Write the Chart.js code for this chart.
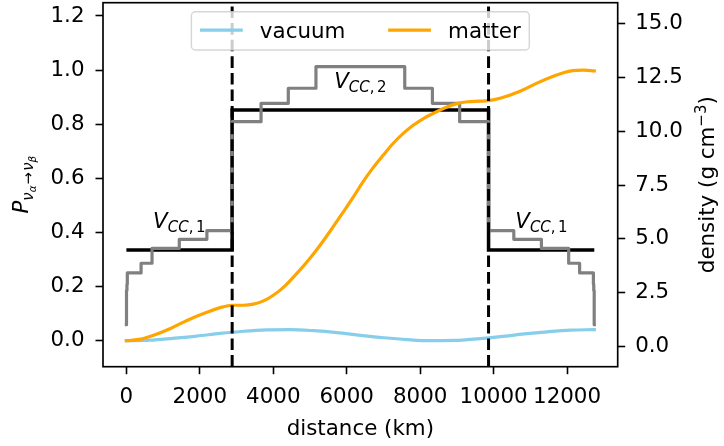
<!DOCTYPE html>
<html>
<head>
<meta charset="utf-8">
<script src="https://cdn.jsdelivr.net/npm/chart.js@4.4.1/dist/chart.umd.min.js"></script>
<style>
  html, body { margin: 0; padding: 0; background: #fff; }
  #wrap { position: relative; width: 724px; height: 446px; }
</style>
</head>
<body>
<div id="wrap"><canvas id="oscChart" width="724" height="446"></canvas></div>
<script>
// ---- oscillation probability along the baseline ----
const vacuumKm = [0, 640, 1270, 1910, 2550, 3190, 3820, 4460, 5100, 5730, 6370,
                  7010, 7650, 8280, 8920, 9560, 10190, 10830, 11470, 12100, 12742];
const vacuumP  = [0, 0.002, 0.009, 0.017, 0.027, 0.035, 0.040, 0.041, 0.037, 0.030, 0.020,
                  0.011, 0.004, 0.000, 0.001, 0.007, 0.015, 0.025, 0.033, 0.039, 0.041];

const matterKm = [0, 400, 742, 1200, 1649, 2192, 2600, 2880, 3200, 3458, 3750, 4002, 4300,
                  4637, 5000, 5270, 5600, 5903, 6200, 6447, 6700, 6990, 7250, 7533, 7800,
                  8100, 8400, 8700, 9000, 9300, 9600, 9862, 10200, 10704, 11150, 11608,
                  11900, 12152, 12450, 12742];
const matterP  = [0, 0.006, 0.020, 0.045, 0.075, 0.105, 0.124, 0.131, 0.131, 0.135, 0.148, 0.168, 0.200,
                  0.248, 0.305, 0.352, 0.415, 0.475, 0.535, 0.588, 0.636, 0.685, 0.727, 0.765, 0.795,
                  0.822, 0.843, 0.862, 0.876, 0.883, 0.885, 0.887, 0.897, 0.921, 0.950, 0.976,
                  0.990, 0.998, 1.000, 0.997];

// ---- layered density (g/cm^3), each value holds until the next distance ----
const premKm      = [0, 3, 15, 25, 400, 698, 1440, 2192, 2880, 3667, 4409, 5162,
                     7580, 8333, 9075, 9862, 10550, 11302, 12044, 12342, 12717, 12727, 12739, 12742];
const premDensity = [1.02, 2.6, 2.9, 3.42, 3.87, 4.56, 4.98, 5.38, 10.44, 11.29, 11.99, 12.99,
                     11.99, 11.29, 10.44, 5.38, 4.98, 4.56, 3.87, 3.42, 2.9, 2.6, 1.02, 1.02];

// ---- constant-density approximation (mantle / core / mantle) ----
const vccKm      = [0, 2880, 2880, 9862, 9862, 12742];
const vccDensity = [4.49, 4.49, 10.98, 10.98, 4.49, 4.49];

// mantle-core crossings
const coreKm = [2880, 9862];

// V_CC labels
const vccLabelKm      = [1440, 6371, 11302];
const vccLabelDensity = [5.5, 12.0, 5.5];
const vccLabelIndex   = ['1', '2', '1'];

// ticks
const distanceTicks = [0, 2000, 4000, 6000, 8000, 10000, 12000];
const probTicks     = [0, 0.2, 0.4, 0.6, 0.8, 1.0, 1.2];
const densityTicks  = [0, 2.5, 5, 7.5, 10, 12.5, 15];

const FAMILY = '"DejaVu Sans"';
const FS = 21.4;

const pts = (xs, ys) => xs.map((x, i) => ({ x: x, y: ys[i] }));
const fontOf = r => `${r.it ? 'italic ' : ''}${r.s}px ${FAMILY}`;

function runsWidth(ctx, runs) {
    let w = 0;
    runs.forEach(r => { ctx.font = fontOf(r); w += ctx.measureText(r.t).width + (r.gap || 0); });
    return w;
}
function drawRuns(ctx, runs, x, y) {
    let cx = x;
    runs.forEach(r => {
        ctx.font = fontOf(r);
        ctx.fillText(r.t, cx, y + (r.dy || 0));
        cx += ctx.measureText(r.t).width + (r.gap || 0);
    });
}

const decorations = {
    id: 'decorations',
    afterDatasetsDraw(chart) {
        const { ctx, chartArea: a, scales } = chart;
        ctx.save();

        // dashed core boundaries
        ctx.strokeStyle = '#000';
        ctx.lineWidth = 3;
        ctx.setLineDash([11.6, 5]);
        coreKm.forEach(km => {
            const x = scales.x.getPixelForValue(km);
            ctx.beginPath();
            ctx.moveTo(x, a.bottom);
            ctx.lineTo(x, a.top);
            ctx.stroke();
        });
        ctx.setLineDash([]);

        // V_CC,i labels
        ctx.fillStyle = '#000';
        ctx.textAlign = 'left';
        ctx.textBaseline = 'alphabetic';
        const sub = FS * 0.7;
        vccLabelKm.forEach((km, i) => {
            const runs = [
                { t: 'V', s: FS, it: true },
                { t: 'CC', s: sub, it: true, dy: 4 },
                { t: ',', s: sub, dy: 4, gap: 2.5 },
                { t: vccLabelIndex[i], s: sub, dy: 4 }
            ];
            const w = runsWidth(ctx, runs);
            drawRuns(ctx, runs, scales.x.getPixelForValue(km) - w / 2,
                     scales.yd.getPixelForValue(vccLabelDensity[i]));
        });

        // frame
        ctx.lineWidth = 1.67;
        ctx.strokeStyle = '#000';
        ctx.strokeRect(a.left, a.top, a.right - a.left, a.bottom - a.top);

        // legend (two columns, upper centre)
        const items = chart.data.datasets.filter(d => d.inLegend)
            .sort((p, q) => p.legendPos - q.legendPos);
        const pad = 0.4 * FS, handle = 2 * FS, htp = 0.8 * FS, colsp = 2 * FS;
        ctx.font = `${FS}px ${FAMILY}`;
        const widths = items.map(d => ctx.measureText(d.label).width);
        let boxW = 2 * pad + colsp * (items.length - 1);
        widths.forEach(w => { boxW += handle + htp + w; });
        const boxH = 38.3;
        const boxL = (a.left + a.right) / 2 - boxW / 2;
        const boxT = a.top + 9;
        ctx.globalAlpha = 0.8;
        ctx.beginPath();
        ctx.roundRect(boxL, boxT, boxW, boxH, 4);
        ctx.fillStyle = '#fff';
        ctx.fill();
        ctx.lineWidth = 1.4;
        ctx.strokeStyle = '#cccccc';
        ctx.stroke();
        ctx.globalAlpha = 1;
        let cx = boxL + pad;
        items.forEach((d, i) => {
            ctx.strokeStyle = d.borderColor;
            ctx.lineWidth = d.borderWidth;
            ctx.beginPath();
            ctx.moveTo(cx, boxT + 18.5);
            ctx.lineTo(cx + handle, boxT + 18.5);
            ctx.stroke();
            cx += handle + htp;
            ctx.fillStyle = '#000';
            ctx.font = `${FS}px ${FAMILY}`;
            ctx.fillText(d.label, cx, boxT + 26.5);
            cx += widths[i] + colsp;
        });

        // axis titles
        const cy = (a.top + a.bottom) / 2;
        ctx.fillStyle = '#000';
        ctx.font = `${FS}px ${FAMILY}`;
        ctx.textAlign = 'center';
        ctx.fillText('distance (km)', (a.left + a.right) / 2, a.bottom + 68.5);
        ctx.textAlign = 'left';

        const pRuns = [
            { t: 'P', s: FS, it: true },
            { t: 'ν', s: sub, it: true, dy: 5 },
            { t: 'α', s: FS * 0.49, it: true, dy: 8, gap: 1 },
            { t: '→', s: sub, dy: 5, gap: 1 },
            { t: 'ν', s: sub, it: true, dy: 5 },
            { t: 'β', s: FS * 0.49, it: true, dy: 8 }
        ];
        let w = runsWidth(ctx, pRuns);
        ctx.save();
        ctx.translate(28, cy);
        ctx.rotate(-Math.PI / 2);
        drawRuns(ctx, pRuns, -w / 2, 0);
        ctx.restore();

        const dRuns = [
            { t: 'density (g cm', s: FS },
            { t: '−3', s: sub, dy: -8 },
            { t: ')', s: FS }
        ];
        w = runsWidth(ctx, dRuns);
        ctx.save();
        ctx.translate(714, cy);
        ctx.rotate(-Math.PI / 2);
        drawRuns(ctx, dRuns, -w / 2, 0);
        ctx.restore();

        ctx.restore();
    }
};

const tickFont = { family: FAMILY, size: FS };
const tickGrid = { drawOnChartArea: false, drawTicks: true, tickLength: 7.5, tickWidth: 1.6, tickColor: '#000' };

// fixed axis sizes, no extra room for overhanging tick labels
function fixWidth(w) {
    return s => { s.width = w; s.paddingTop = 0; s.paddingBottom = 0; };
}

new Chart(document.getElementById('oscChart'), {
    type: 'line',
    data: {
        datasets: [
            { label: 'matter', data: pts(matterKm, matterP), yAxisID: 'y',
              borderColor: '#ffa500', borderWidth: 3.2, cubicInterpolationMode: 'monotone',
              borderCapStyle: 'square', order: 1, inLegend: true, legendPos: 2 },
            { label: 'vacuum', data: pts(vacuumKm, vacuumP), yAxisID: 'y',
              borderColor: '#87ceeb', borderWidth: 3.2, cubicInterpolationMode: 'monotone',
              borderCapStyle: 'square', order: 2, inLegend: true, legendPos: 1 },
            { label: 'density', data: pts(premKm, premDensity), yAxisID: 'yd', stepped: true,
              borderColor: '#808080', borderWidth: 3.2, borderJoinStyle: 'round',
              borderCapStyle: 'square', order: 3 },
            { label: 'V_CC', data: pts(vccKm, vccDensity), yAxisID: 'yd',
              borderColor: '#000', borderWidth: 3.5, borderJoinStyle: 'miter', order: 4 }
        ]
    },
    options: {
        responsive: false,
        animation: false,
        devicePixelRatio: 1,
        elements: { point: { radius: 0 } },
        layout: { padding: { top: 2.7, left: 0, right: 0, bottom: 0 } },
        plugins: { legend: { display: false }, tooltip: { enabled: false } },
        scales: {
            x: {
                type: 'linear', min: -637, max: 13379,
                afterFit(s) { s.height = 79.3; s.paddingLeft = 0; s.paddingRight = 0; },
                afterBuildTicks(s) { s.ticks = distanceTicks.map(v => ({ value: v })); },
                ticks: { callback: v => String(v), font: tickFont, color: '#000', padding: 10,
                         maxRotation: 0, autoSkip: false },
                grid: tickGrid,
                border: { display: false }
            },
            y: {
                position: 'left', min: -0.096, max: 1.249,
                afterFit: fixWidth(103),
                afterBuildTicks(s) { s.ticks = probTicks.map(v => ({ value: v })); },
                ticks: { callback: v => v.toFixed(1), font: tickFont, color: '#000', padding: 11 },
                grid: tickGrid,
                border: { display: false }
            },
            yd: {
                position: 'right', min: -0.93, max: 15.96,
                afterFit: fixWidth(106.3),
                afterBuildTicks(s) { s.ticks = densityTicks.map(v => ({ value: v })); },
                ticks: { callback: v => v.toFixed(1), font: tickFont, color: '#000', padding: 10 },
                grid: tickGrid,
                border: { display: false }
            }
        }
    },
    plugins: [decorations]
});
</script>
</body>
</html>
